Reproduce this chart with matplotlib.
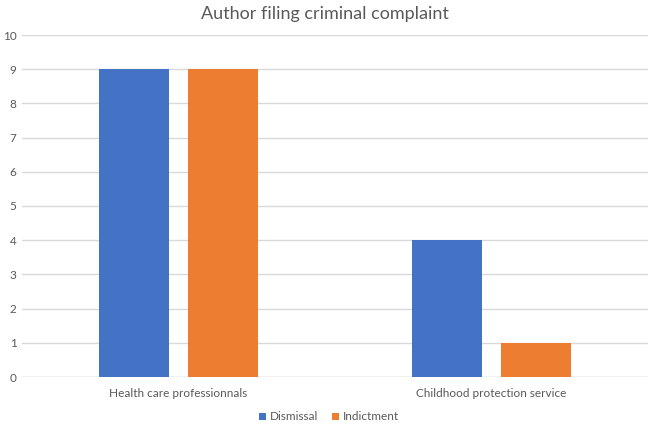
import matplotlib
matplotlib.use("Agg")
import matplotlib.pyplot as plt
import numpy as np

categories = ["Health care professionnals", "Childhood protection service"]
dismissal = [9, 4]
indictment = [9, 1]
series_names = ["Dismissal", "Indictment"]
colors = ["#4472C4", "#ED7D31"]

plt.rcParams['font.family'] = ['Lato', 'DejaVu Sans']
fig = plt.figure(figsize=(6.49, 4.25), dpi=100)
ax = fig.add_axes([22/649, 48/425, 626/649, 342/425])

x = np.arange(len(categories))
w = 0.224
off = 0.142
ax.bar(x - off, dismissal, w, color=colors[0], label=series_names[0], zorder=3)
ax.bar(x + off, indictment, w, color=colors[1], label=series_names[1], zorder=3)

ax.set_xlim(-0.5, 1.5)
ax.set_ylim(0, 10)
ax.set_yticks(range(0, 11))
ax.set_xticks(x)
ax.set_xticklabels(categories)
ax.grid(axis='y', color='#D9D9D9', linewidth=1, zorder=0)
for s in ax.spines.values():
    s.set_visible(False)
ax.axhline(0, color='#D9D9D9', linewidth=1, zorder=2)
ax.tick_params(axis='both', length=0, labelsize=8.5, labelcolor='#595959')
ax.tick_params(axis='x', pad=8)
ax.tick_params(axis='y', pad=4)

fig.text(0.5, 1 - 14/425, "Author filing criminal complaint", ha='center', va='center',
         fontsize=13, color='#595959')

leg = fig.legend(loc='center', bbox_to_anchor=(0.507, 1 - 417/425), ncol=2, frameon=False,
                 fontsize=8.5, handlelength=0.6, handleheight=0.6, handletextpad=0.3,
                 columnspacing=1.2)
for t in leg.get_texts():
    t.set_color('#595959')

fig.savefig("out.png", dpi=100)
